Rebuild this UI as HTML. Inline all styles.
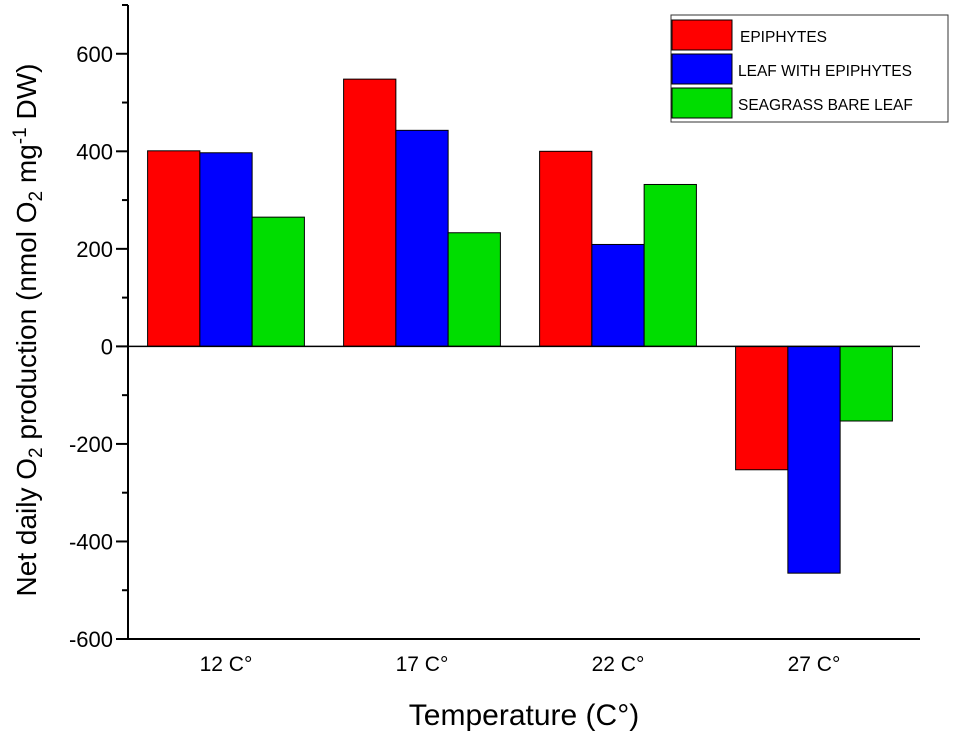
<!DOCTYPE html>
<html><head><meta charset="utf-8"><style>
body{margin:0;background:#fff;font-family:"Liberation Sans",Arial,sans-serif}
</style></head><body>
<svg id="chart" width="955" height="735" xmlns="http://www.w3.org/2000/svg" font-family="Liberation Sans, Arial, sans-serif">
</svg>
<script>
const categories=["12 C°","17 C°","22 C°","27 C°"];
const seriesNames=["EPIPHYTES","LEAF WITH EPIPHYTES","SEAGRASS BARE LEAF"];
const seriesColors=["#ff0000","#0000ff","#00dd00"];
const epiphytes=[401,548,400,-253];
const leafWithEpiphytes=[397,443,209,-465];
const bareLeaf=[265,233,332,-153];
const yTicks=[-600,-400,-200,0,200,400,600];
const series=[epiphytes,leafWithEpiphytes,bareLeaf];

const svg=document.getElementById('chart');
const NS="http://www.w3.org/2000/svg";
const L=128,R=912,AR=920,T=5,B=639,yMin=-600,yMax=700;
const y=v=>B-(v-yMin)/(yMax-yMin)*(B-T);
const band=(R-L)/categories.length;
const xc=i=>L+band*(i+0.5);
const bw=band*0.8/3;
function mk(tag,attrs,text){const e=document.createElementNS(NS,tag);for(const k in attrs)e.setAttribute(k,attrs[k]);if(text!=null)e.textContent=text;svg.appendChild(e);return e;}

series.forEach((s,si)=>{s.forEach((v,i)=>{
  const x=xc(i)-1.5*bw+si*bw;
  const r=mk('rect',{x:x,y:Math.min(y(v),y(0)),width:bw,height:Math.abs(y(v)-y(0)),fill:seriesColors[si],stroke:'#000','stroke-width':1});
  
  
});});

const ax=mk('path',{d:`M${L},${T}V${B}H${AR}`,stroke:'#000','stroke-width':2,fill:'none'});


const zl=mk('line',{x1:L,x2:AR,y1:y(0),y2:y(0),stroke:'#000','stroke-width':1.5});


for(let v=yMin;v<=yMax;v+=100){
  const major=yTicks.includes(v);
  mk('line',{x1:major?L-12:L-6,x2:L,y1:y(v),y2:y(v),stroke:'#000','stroke-width':2});
}
yTicks.forEach(v=>{
  const t=mk('text',{x:L-15,y:y(v)+8,'text-anchor':'end','font-size':22,fill:'#000'},String(v));
  
  
});
categories.forEach((c,i)=>{
  const t=mk('text',{x:xc(i),y:671,'text-anchor':'middle','font-size':21,fill:'#000'},c);
  
  
});
const xt=mk('text',{x:524,y:725,'text-anchor':'middle','font-size':30,fill:'#000'},'Temperature (C°)');


const yt=mk('text',{transform:'translate(36,330) rotate(-90)','text-anchor':'middle','font-size':28,fill:'#000'});


yt.innerHTML='Net daily O<tspan font-size="19" dy="6">2</tspan><tspan dy="-6"> production (nmol O</tspan><tspan font-size="19" dy="6">2</tspan><tspan dy="-6"> mg</tspan><tspan font-size="19" dy="-10">-1</tspan><tspan dy="10"> DW)</tspan>';

const lg=mk('rect',{x:671,y:15,width:277,height:107,fill:'#fff',stroke:'#333','stroke-width':1});


seriesNames.forEach((n,i)=>{
  const sw=mk('rect',{x:672,y:20+i*34,width:60,height:30,fill:seriesColors[i],stroke:'#000','stroke-width':1});
  
  
  const t=mk('text',{x:i==0?740:738,y:42+i*34,'font-size':15.5,fill:'#000'},n);
  
  
});
</script>
</body></html>
